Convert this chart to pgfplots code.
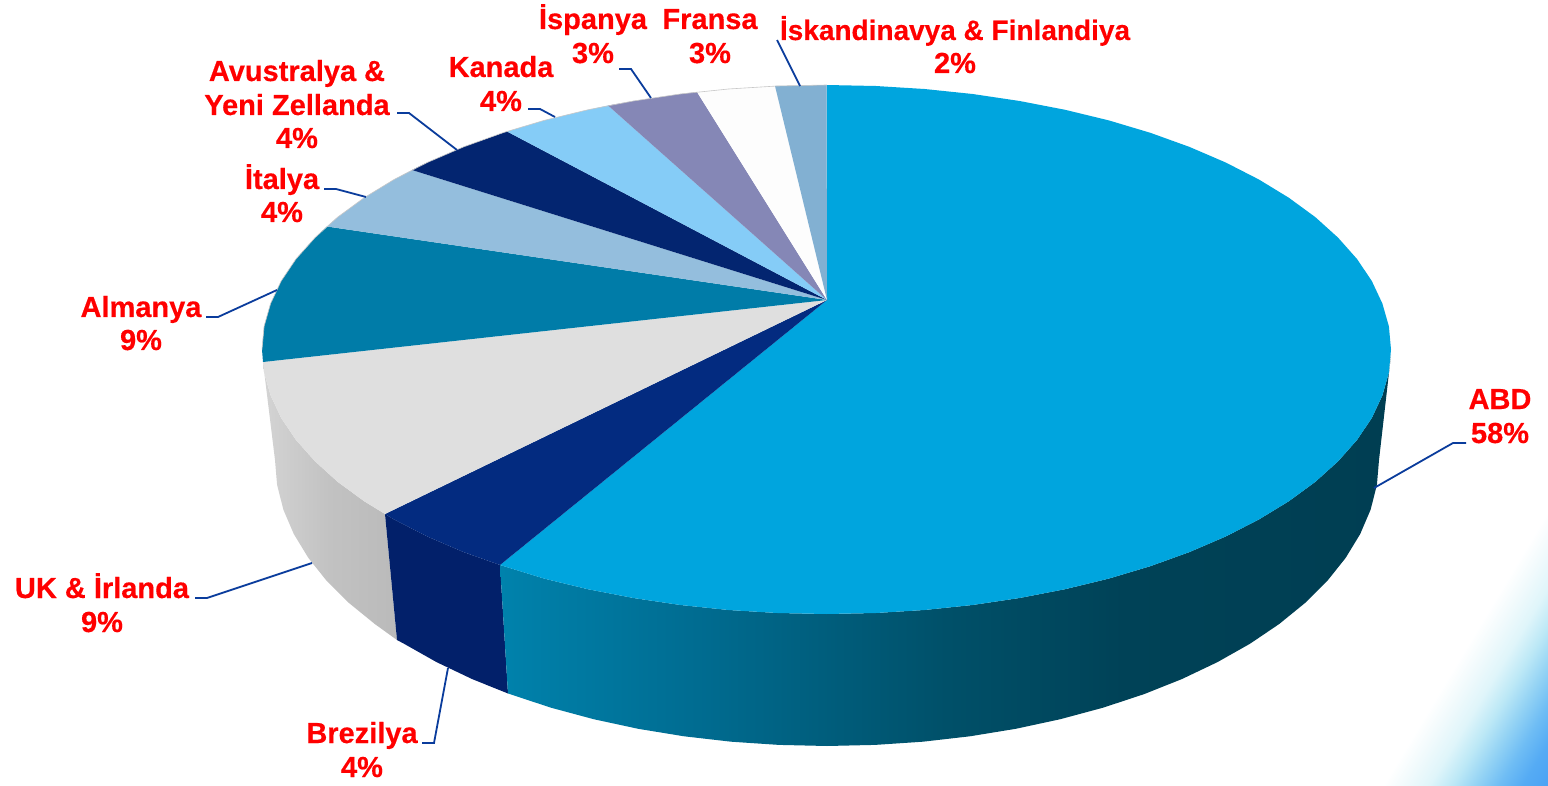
\documentclass[border=0pt]{standalone}
\usepackage{fontspec}
\setmainfont{Liberation Sans}[BoldFeatures={FakeBold=0.4}]
\usepackage{pgfplots}
\pgfplotsset{compat=1.18}
\definecolor{cABD}{HTML}{00A5DE}
\definecolor{cBRt}{HTML}{032B80}
\definecolor{cBRs}{HTML}{02206A}
\definecolor{cUKt}{HTML}{DFDFDF}
\definecolor{cDE}{HTML}{007CA8}
\definecolor{cIT}{HTML}{94BEDD}
\definecolor{cAU}{HTML}{032570}
\definecolor{cCA}{HTML}{85CCF7}
\definecolor{cES}{HTML}{8587B6}
\definecolor{cFR}{HTML}{FDFDFD}
\definecolor{cSC}{HTML}{82B0D2}
\definecolor{cLine}{HTML}{0A3C9C}
\pgfdeclarehorizontalshading{abdside}{100bp}{
 rgb(0bp)=(0,0.51,0.675);
 rgb(25bp)=(0,0.51,0.675);
 rgb(36bp)=(0,0.424,0.569);
 rgb(50bp)=(0,0.314,0.412);
 rgb(60bp)=(0,0.259,0.341);
 rgb(75bp)=(0,0.243,0.322);
 rgb(100bp)=(0,0.243,0.322)}
\pgfdeclarehorizontalshading{greyside}{100bp}{
 rgb(0bp)=(0.83,0.83,0.83);
 rgb(25bp)=(0.83,0.83,0.83);
 rgb(50bp)=(0.76,0.76,0.76);
 rgb(75bp)=(0.73,0.73,0.73);
 rgb(100bp)=(0.73,0.73,0.73)}
\pgfdeclarehorizontalshading{glowshade}{100bp}{
 rgb(0bp)=(1,1,1);
 rgb(59.5bp)=(1,1,1);
 rgb(62.95bp)=(0.941,0.98,0.988);
 rgb(66.45bp)=(0.875,0.961,0.98);
 rgb(69.95bp)=(0.737,0.91,0.965);
 rgb(73.45bp)=(0.58,0.827,0.957);
 rgb(76.95bp)=(0.435,0.741,0.957);
 rgb(80.45bp)=(0.333,0.671,0.957);
 rgb(84.3bp)=(0.294,0.635,0.957);
 rgb(100bp)=(0.294,0.635,0.957)}
\newcommand{\lab}[3]{\node[anchor=base,text=red,inner sep=0pt,font=\fontsize{29}{33}\selectfont\bfseries] at (axis cs:#1,#2) {#3};}
\newcommand{\labs}[3]{\node[anchor=base,text=red,inner sep=0pt,font=\fontsize{28}{33}\selectfont\bfseries] at (axis cs:#1,#2) {#3};}
\begin{document}
\begin{tikzpicture}
\begin{axis}[
  scale only axis,width=1548pt,height=786pt,
  xmin=0,xmax=1548,ymin=0,ymax=786,y dir=reverse,
  hide axis,no markers,clip=true]
\addplot[fill=white,draw=none] coordinates {(0,0) (1548,0) (1548,786) (0,786)} -- cycle;
% background glow
\addplot[shading=glowshade,shading angle=-31,draw=none] coordinates {(1262,500) (1548,500) (1548,786) (1262,786)} -- cycle;
% side walls
\addplot[shading=greyside,draw=none] coordinates {(385,514) (364.1,501.2) (337.6,481.8) (315,461.3) (296,440) (281.2,418) (270.6,395.4) (264.1,372.6) (263,362) (275,460) (277.1,484.9) (283.4,509.7) (293.8,534) (308.3,557.8) (326.7,580.9) (349,603) (374.8,624) (397,640)} -- cycle;
\addplot[fill=cBRs,draw=none] coordinates {(385,514) (394.1,519.5) (427.3,536.5) (463.6,552.1) (500,565) (508,693.5) (472.2,679.1) (436.7,662.2) (404.1,643.8) (397,640)} -- cycle;
\addplot[shading=abdside,draw=none] coordinates {(500,565) (544.2,578.6) (587.9,589.2) (633.4,598) (680.4,605) (728.5,610) (777.3,613) (826.5,614) (875.7,613) (924.5,610) (972.6,605) (1019.6,598) (1065.1,589.2) (1108.8,578.6) (1150.3,566.2) (1189.4,552.1) (1225.7,536.5) (1258.9,519.5) (1288.9,501.2) (1315.4,481.8) (1338.1,461.3) (1357,440) (1371.8,418) (1382.4,395.4) (1388.9,372.6) (1391,355) (1379,460) (1376.9,484.9) (1370.6,509.7) (1360.2,534) (1345.7,557.8) (1327.3,580.9) (1305,603) (1279.2,624) (1249.9,643.8) (1217.3,662.2) (1181.8,679.1) (1143.6,694.3) (1103,707.7) (1060.3,719.2) (1015.8,728.8) (969.9,736.3) (922.9,741.7) (875.1,744.9) (827,746) (778.9,744.9) (731.1,741.7) (684.1,736.3) (638.2,728.8) (593.7,719.2) (551,707.7) (508,693.5)} -- cycle;
% top slices
\addplot[fill=cABD,draw=none] coordinates {(827,300) (826.5,85) (875.7,86) (924.5,89) (972.6,94) (1019.6,101) (1065.1,109.8) (1108.8,120.4) (1150.3,132.8) (1189.4,146.9) (1225.7,162.5) (1258.9,179.5) (1288.9,197.8) (1315.4,217.2) (1338.1,237.7) (1357,259) (1371.8,281) (1382.4,303.6) (1388.9,326.4) (1391,349.5) (1388.9,372.6) (1382.4,395.4) (1371.8,418) (1357,440) (1338.1,461.3) (1315.4,481.8) (1288.9,501.2) (1258.9,519.5) (1225.7,536.5) (1189.4,552.1) (1150.3,566.2) (1108.8,578.6) (1065.1,589.2) (1019.6,598) (972.6,605) (924.5,610) (875.7,613) (826.5,614) (777.3,613) (728.5,610) (680.4,605) (633.4,598) (587.9,589.2) (544.2,578.6) (500,565)} -- cycle;
\addplot[fill=cBRt,draw=none] coordinates {(827,300) (500,565) (463.6,552.1) (427.3,536.5) (394.1,519.5) (385,514)} -- cycle;
\addplot[fill=cUKt,draw=none] coordinates {(827,300) (385,514) (364.1,501.2) (337.6,481.8) (315,461.3) (296,440) (281.2,418) (270.6,395.4) (264.1,372.6) (263,362)} -- cycle;
\addplot[fill=cDE,draw=none] coordinates {(827,300) (263,362) (262,349.5) (264.1,326.4) (270.6,303.6) (281.2,281) (296,259) (315,237.7) (327,226.5)} -- cycle;
\addplot[fill=cIT,draw=none] coordinates {(827,300) (327,226.5) (337.6,217.2) (364.1,197.8) (394.1,179.5) (412,170)} -- cycle;
\addplot[fill=cAU,draw=none] coordinates {(827,300) (412,170) (427.3,162.5) (463.6,146.9) (507,131.5)} -- cycle;
\addplot[fill=cCA,draw=none] coordinates {(827,300) (507,131.5) (544.2,120.4) (587.9,109.8) (608,105.5)} -- cycle;
\addplot[fill=cES,draw=none] coordinates {(827,300) (608,105.5) (633.4,101) (680.4,94) (697,92)} -- cycle;
\addplot[fill=cFR,draw=none] coordinates {(827,300) (697,92) (728.5,89) (775,86)} -- cycle;
\addplot[fill=cSC,draw=none] coordinates {(827,300) (775,86) (826.5,85)} -- cycle;
% outline of the far rim
\addplot[draw={rgb,255:red,200;green,200;blue,200},line width=0.6pt] coordinates {(262,349.5) (264.1,326.4) (270.6,303.6) (281.2,281) (296,259) (315,237.7) (337.6,217.2) (364.1,197.8) (394.1,179.5) (427.3,162.5) (463.6,146.9) (502.7,132.8) (544.2,120.4) (587.9,109.8) (633.4,101) (680.4,94) (728.5,89) (777.3,86) (826.5,85)};
% leader lines
\addplot[cLine,line width=1.8pt] coordinates {(1374,488) (1453,443) (1466,443)};
\addplot[cLine,line width=1.8pt] coordinates {(448,668) (434,743) (422,743)};
\addplot[cLine,line width=1.8pt] coordinates {(312,563) (207,598) (195,598)};
\addplot[cLine,line width=1.8pt] coordinates {(277,290) (218,317) (206,317)};
\addplot[cLine,line width=1.8pt] coordinates {(366,197) (336,189) (324,189)};
\addplot[cLine,line width=1.8pt] coordinates {(457,150) (409,113) (397,113)};
\addplot[cLine,line width=1.8pt] coordinates {(555,117) (540,109) (528,109)};
\addplot[cLine,line width=1.8pt] coordinates {(651,98) (631,69) (619,69)};
\addplot[cLine,line width=1.8pt] coordinates {(800,86) (777,40)};
% labels
\lab{1500}{409}{ABD}\lab{1500}{443}{58\%}
\lab{362}{743}{Brezilya}\lab{362}{777}{4\%}
\lab{102}{598}{UK \& İrlanda}\lab{102}{632}{9\%}
\lab{141}{317}{Almanya}\lab{141}{350}{9\%}
\lab{282}{189}{İtalya}\lab{282}{222}{4\%}
\lab{297}{81}{Avustralya \&}\lab{297}{115}{Yeni Zellanda}\lab{297}{148}{4\%}
\lab{501}{77}{Kanada}\lab{501}{111}{4\%}
\lab{593}{29}{İspanya}\lab{593}{63}{3\%}
\lab{710}{29}{Fransa}\lab{710}{63}{3\%}
\labs{955}{40}{İskandinavya \& Finlandiya}\lab{955}{73}{2\%}
\end{axis}
\end{tikzpicture}
\end{document}
